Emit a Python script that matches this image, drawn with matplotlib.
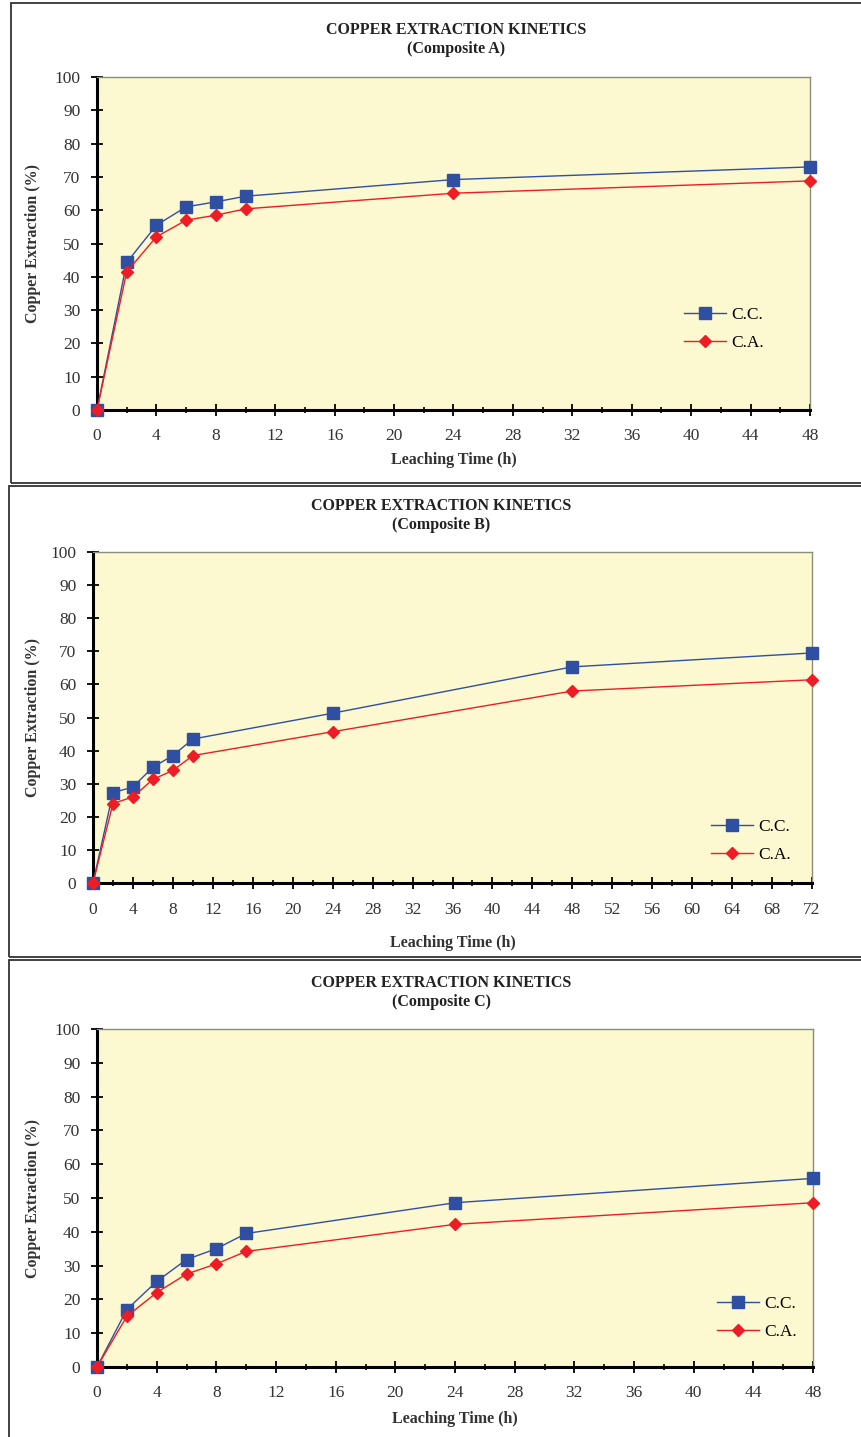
import matplotlib.pyplot as plt
import matplotlib.patches as mpatches
from matplotlib.ticker import MultipleLocator

plt.rcParams['font.family'] = ['Liberation Serif', 'DejaVu Serif']

# Composite A
time_a = [0, 2, 4, 6, 8, 10, 24, 48]
cc_a = [0, 44.3, 55.5, 61.0, 62.5, 64.2, 69.2, 73.0]
ca_a = [0, 41.5, 52.0, 57.0, 58.5, 60.4, 65.1, 68.8]

# Composite B
time_b = [0, 2, 4, 6, 8, 10, 24, 48, 72]
cc_b = [0, 27.3, 29.0, 35.0, 38.5, 43.5, 51.3, 65.3, 69.5]
ca_b = [0, 24.0, 26.0, 31.3, 34.0, 38.5, 45.7, 58.0, 61.4]

# Composite C
time_c = [0, 2, 4, 6, 8, 10, 24, 48]
cc_c = [0, 17.0, 25.3, 31.8, 35.0, 39.5, 48.6, 55.8]
ca_c = [0, 15.0, 22.0, 27.5, 30.5, 34.2, 42.2, 48.6]

W, H = 861, 1437
BLUE = '#2F4FA3'
RED = '#EE1C24'
BG = '#FCF8CF'
TXT = '#333333'

fig = plt.figure(figsize=(W / 100, H / 100), dpi=100)


def fx(x):
    return x / W


def fy(y):
    return 1 - y / H


def panel(box, ax_box, title, sub, t, cc, ca, xmax, leg_xy, title_x, title_y, xpad, lpad):
    # box: left, top, bottom in px ; ax_box: left, top, right, bottom in px
    l, t0, b = box
    fig.patches.append(mpatches.Rectangle((fx(l), fy(b)), fx(W + 20 - l), fy(t0) - fy(b),
                                          transform=fig.transFigure, fill=False,
                                          edgecolor='#333333', lw=1.3))
    al, at, ar, ab = ax_box
    ax = fig.add_axes([fx(al), fy(ab), fx(ar - al), fy(at) - fy(ab)])
    ax.set_facecolor(BG)
    ax.plot(t, cc, color=BLUE, lw=1.0, marker='s', ms=8, mec=BLUE, mfc=BLUE, label='C.C.',
            clip_on=False, zorder=3)
    ax.plot(t, ca, color=RED, lw=1.0, marker='D', ms=6.5, mec=RED, mfc=RED, label='C.A.',
            clip_on=False, zorder=4)
    ax.set_xlim(0, xmax)
    ax.set_ylim(0, 100)
    ax.xaxis.set_major_locator(MultipleLocator(4))
    ax.xaxis.set_minor_locator(MultipleLocator(2))
    ax.yaxis.set_major_locator(MultipleLocator(10))
    ax.tick_params(axis='x', which='major', direction='inout', length=8, width=1.3,
                   pad=xpad, labelsize=12.5, labelcolor=TXT)
    ax.tick_params(axis='x', which='minor', direction='inout', length=4, width=1.2)
    ax.tick_params(axis='y', which='major', direction='inout', length=8, width=1.3,
                   pad=8, labelsize=12.5, labelcolor=TXT)
    for s in ['left', 'bottom']:
        ax.spines[s].set_linewidth(2.2)
        ax.spines[s].set_color('black')
    for s in ['top', 'right']:
        ax.spines[s].set_linewidth(1.0)
        ax.spines[s].set_color('#8C8C7C')
    ax.set_xlabel('Leaching Time (h)', fontsize=11.5, fontweight='bold', color=TXT, labelpad=lpad)
    fig.text(fx(33), (fy(at) + fy(ab)) / 2, 'Copper Extraction (%)', rotation=90,
             fontsize=11.5, fontweight='bold', color=TXT, ha='center', va='center')
    fig.text(fx(title_x), fy(title_y), title, fontsize=11.5, fontweight='bold',
             color='#222222', ha='center', va='center')
    fig.text(fx(title_x), fy(title_y + 19), sub, fontsize=11.5, fontweight='bold',
             color='#222222', ha='center', va='center')
    lx, ly = leg_xy
    ax.legend(loc='upper left', bbox_to_anchor=(fx(lx), fy(ly)), bbox_transform=fig.transFigure,
              frameon=False, fontsize=12.5, handlelength=2.4, handletextpad=0.3,
              labelspacing=0.65, borderpad=0, borderaxespad=0)
    return ax


panel((11, 3, 483), (97, 77, 810, 410), 'COPPER EXTRACTION KINETICS', '(Composite A)',
      time_a, cc_a, ca_a, 48, (684, 307), 456, 30, 9, 6)
panel((9, 486, 957), (93, 552, 812, 883), 'COPPER EXTRACTION KINETICS', '(Composite B)',
      time_b, cc_b, ca_b, 72, (711, 819), 441, 506, 10, 12)
panel((9, 960, 1450), (97, 1029, 813, 1367), 'COPPER EXTRACTION KINETICS', '(Composite C)',
      time_c, cc_c, ca_c, 48, (717, 1296), 441, 983, 9, 7)

fig.savefig('out.png', dpi=100)
